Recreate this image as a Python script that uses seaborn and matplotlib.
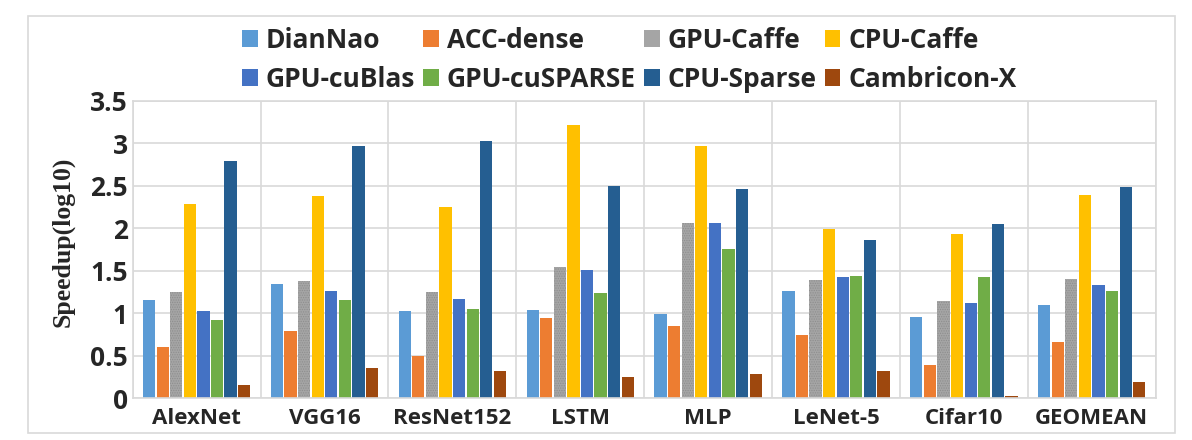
import numpy as np
import pandas as pd
import matplotlib
matplotlib.use("Agg")
import matplotlib.pyplot as plt
from matplotlib.patches import Rectangle
import seaborn as sns

categories = ["AlexNet", "VGG16", "ResNet152", "LSTM", "MLP", "LeNet-5", "Cifar10", "GEOMEAN"]
series = ["DianNao", "ACC-dense", "GPU-Caffe", "CPU-Caffe",
          "GPU-cuBlas", "GPU-cuSPARSE", "CPU-Sparse", "Cambricon-X"]

diannao = [1.16, 1.35, 1.03, 1.04, 0.99, 1.26, 0.96, 1.10]
acc_dense = [0.60, 0.79, 0.50, 0.95, 0.85, 0.75, 0.39, 0.66]
gpu_caffe = [1.25, 1.38, 1.25, 1.55, 2.06, 1.39, 1.15, 1.40]
cpu_caffe = [2.29, 2.38, 2.25, 3.22, 2.97, 1.99, 1.93, 2.39]
gpu_cublas = [1.03, 1.26, 1.17, 1.51, 2.06, 1.43, 1.12, 1.33]
gpu_cusparse = [0.92, 1.16, 1.05, 1.24, 1.76, 1.44, 1.43, 1.26]
cpu_sparse = [2.79, 2.97, 3.03, 2.50, 2.46, 1.86, 2.05, 2.49]
cambricon_x = [0.16, 0.36, 0.32, 0.25, 0.29, 0.32, 0.03, 0.19]

colors = ["#5B9BD5", "#ED7D31", "#A5A5A5", "#FFC000",
          "#4472C4", "#70AD47", "#255E91", "#9E480E"]

values = [diannao, acc_dense, gpu_caffe, cpu_caffe,
          gpu_cublas, gpu_cusparse, cpu_sparse, cambricon_x]
rows = []
for name, vals in zip(series, values):
    for cat, v in zip(categories, vals):
        rows.append({"model": cat, "platform": name, "speedup": v})
df = pd.DataFrame(rows)

sns.set_theme(style="white")
plt.rcParams["font.family"] = ["Open Sans", "DejaVu Sans"]
plt.rcParams["font.weight"] = "bold"
plt.rcParams["hatch.linewidth"] = 0.6

fig = plt.figure(figsize=(11.92, 4.40), dpi=100)
ax = fig.add_axes([0.1113, 0.0948, 0.8582, 0.6763])

sns.barplot(data=df, x="model", y="speedup", hue="platform",
            order=categories, hue_order=series, palette=colors,
            width=0.85, gap=0.1, linewidth=0, saturation=1,
            errorbar=None, ax=ax)

# GPU-Caffe bars have a fine dotted texture
for bar in ax.containers[2]:
    bar.set_hatch(".......")
    bar.set_edgecolor("#8e8e8e")
    bar.set_linewidth(0)

grid_c = "#d9d9d9"
ax.set_xlim(-0.5, 7.5)
ax.set_ylim(0, 3.5)
ax.set_yticks(np.arange(0, 3.51, 0.5))
ax.set_yticklabels([f"{t:g}" for t in np.arange(0, 3.51, 0.5)])
ax.set_xticks(np.arange(-0.5, 8, 1), minor=True)
ax.grid(which="major", axis="y", color=grid_c, linewidth=1.2)
ax.grid(which="minor", axis="x", color=grid_c, linewidth=1.2)
ax.set_axisbelow(True)
for s in ax.spines.values():
    s.set_color(grid_c)
    s.set_linewidth(1.2)
ax.tick_params(axis="both", which="both", length=0)
ax.tick_params(axis="y", labelsize=19, pad=3.5)
ax.tick_params(axis="x", labelsize=16, pad=7)
for lab in ax.get_xticklabels() + ax.get_yticklabels():
    lab.set_fontweight("bold")

ax.set_xlabel("")
ax.set_ylabel("Speedup(log10)", fontsize=18.5, fontweight="bold",
              family="Liberation Serif")
ax.yaxis.set_label_coords(-0.0564, 0.527)

handles, labels = ax.get_legend_handles_labels()
ax.legend_.remove()
# legend fills column by column, so reorder to read row by row
order = [0, 4, 1, 5, 2, 6, 3, 7]
fig.legend([handles[i] for i in order], [labels[i] for i in order],
           ncol=4, loc="center", bbox_to_anchor=(0.528, 0.8636),
           frameon=False, prop={"family": "Open Sans", "size": 19, "weight": "bold"},
           handlelength=0.6, handleheight=0.6, handletextpad=0.3,
           columnspacing=0.3, labelspacing=0.45, borderpad=0)

fig.patches.append(Rectangle((28 / 1192, 7 / 440), 1147 / 1192, 417 / 440,
                             transform=fig.transFigure, fill=False,
                             edgecolor=grid_c, linewidth=1.2))

fig.savefig("out.png", dpi=100)
